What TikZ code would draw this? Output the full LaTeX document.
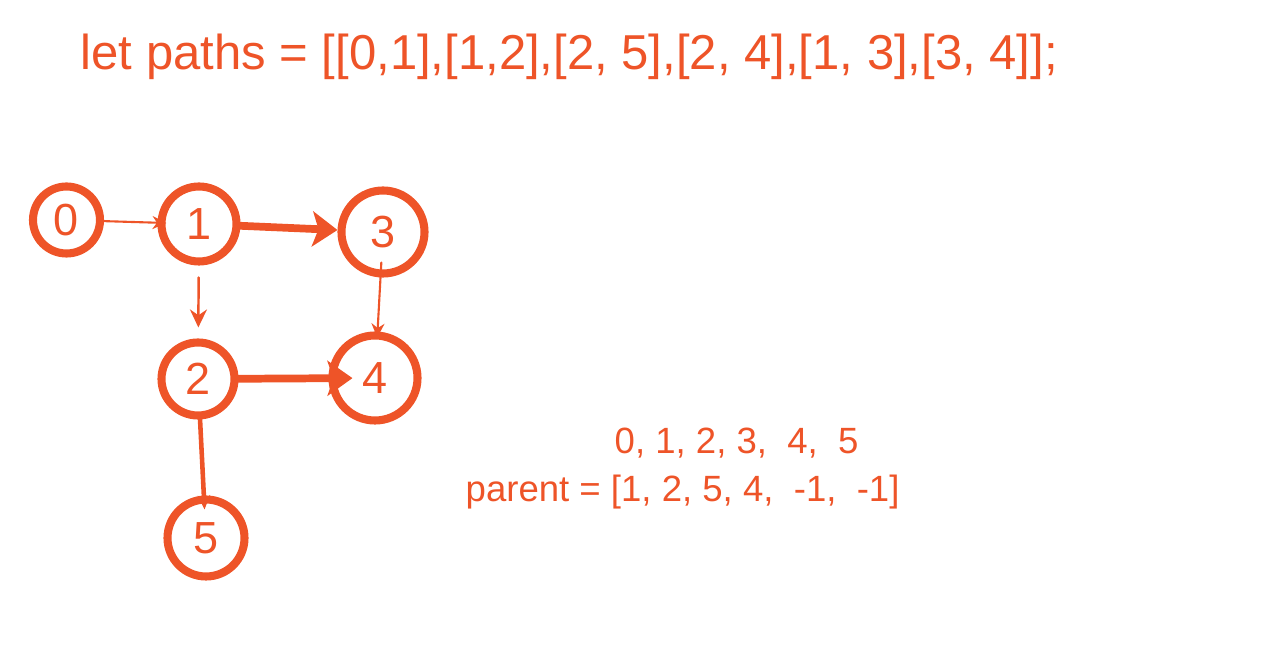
\documentclass[tikz,border=0pt]{standalone}
\usepackage{fontspec}
\setmainfont{Liberation Sans}
\usetikzlibrary{arrows.meta}
\definecolor{pathred}{RGB}{238,84,40}
\begin{document}
\begin{tikzpicture}[line join=round, line cap=round, color=pathred,
	vertex/.style={circle, draw, line width=2.3pt, inner sep=0pt, font=\fontsize{12.8pt}{14pt}\selectfont},
	caption/.style={anchor=base west, inner sep=0pt},
	thin/.style={line width=0.6pt, -{Stealth[length=0.14cm, width=0.13cm]}},
	thick/.style={line width=2.2pt, -{Stealth[length=0.25cm, width=0.35cm, inset=0.06cm]}}]
	\useasboundingbox (0,0) rectangle (12.64,-6.56);
	\node[caption, font=\fontsize{13.95pt}{16pt}\selectfont] (paths) at (0.80,-0.70)
		{let paths = [[0,1],[1,2],[2, 5],[2, 4],[1, 3],[3, 4]];};
	\foreach \i/\x/\y/\r in {0/0.665/-2.20/0.67, 1/1.99/-2.24/0.75, 2/1.98/-3.79/0.73,
		3/3.83/-2.32/0.83, 4/3.75/-3.78/0.85, 5/2.06/-5.38/0.77}{
		\node[vertex, minimum size=\r cm] (n\i) at (\x,\y) {\i};
	}
	\draw[thin, shorten <=-0.06cm, shorten >=-0.09cm] (n0) -- (n1);
	\draw[thick] (n1) -- (n3);
	\draw[line width=0.7pt, -{Stealth[length=0.18cm, width=0.17cm]}, shorten <=0.12cm, shorten >=0.11cm] (n1) -- (n2);
	\draw[thin, shorten <=-0.15cm, shorten >=-0.06cm] (n3) -- (n4);
	\draw[thick, shorten >=-0.24cm] (n2) -- (n4);
	\draw[line width=1.3pt, -{Stealth[length=0.14cm, width=0.12cm]}, shorten >=-0.14cm] (n2) -- (n5);
	\node[caption, font=\fontsize{10.4pt}{12pt}\selectfont] (index) at (6.14,-4.54)
		{0, 1, 2, 3,\ \ 4,\ \ 5};
	\node[caption, font=\fontsize{10.4pt}{12pt}\selectfont] (parent) at (4.65,-5.02)
		{parent = [1, 2, 5, 4,\ \ -1,\ \ -1]};
\end{tikzpicture}
\end{document}
